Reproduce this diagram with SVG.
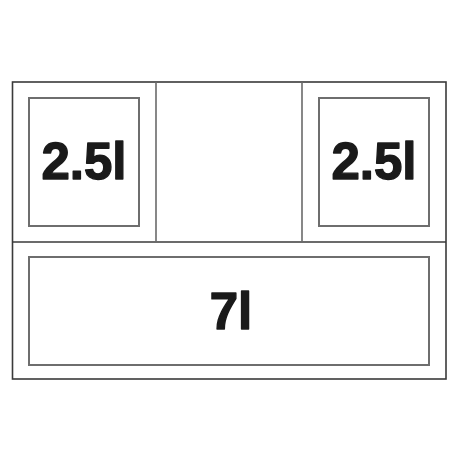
<svg xmlns="http://www.w3.org/2000/svg" width="458" height="458" viewBox="0 0 458 458">
<style>
.frame{fill:none;stroke:#3a3a3a;stroke-width:1.6}
.div{fill:none;stroke:#6a6a6a;stroke-width:1.6}
.box{fill:none;stroke:#6e6e6e;stroke-width:2}
.lbl{font-family:"Liberation Sans",Arial,sans-serif;font-weight:bold;font-size:51px;fill:#1a1a1a;stroke:#1a1a1a;stroke-width:1.4;stroke-linejoin:round;text-anchor:middle}
</style>
<rect width="458" height="458" fill="#ffffff"/>
<g id="frame">
<rect class="frame" x="12.5" y="82" width="433.5" height="297"/>
<line class="frame" x1="12.5" y1="242" x2="446" y2="242"/>
<line class="div" x1="156" y1="82" x2="156" y2="242"/>
<line class="div" x1="302" y1="82" x2="302" y2="242"/>
</g>
<g id="left-box">
<rect class="box" x="29" y="98" width="110" height="128"/>
<text class="lbl" x="84" y="179">2.5l</text>
</g>
<g id="right-box">
<rect class="box" x="319" y="98" width="110" height="128"/>
<text class="lbl" x="374" y="179">2.5l</text>
</g>
<g id="bottom-box">
<rect class="box" x="29" y="257" width="400" height="108"/>
<text class="lbl" x="231" y="329">7l</text>
</g>
<g id="connectors"></g>
</svg>
